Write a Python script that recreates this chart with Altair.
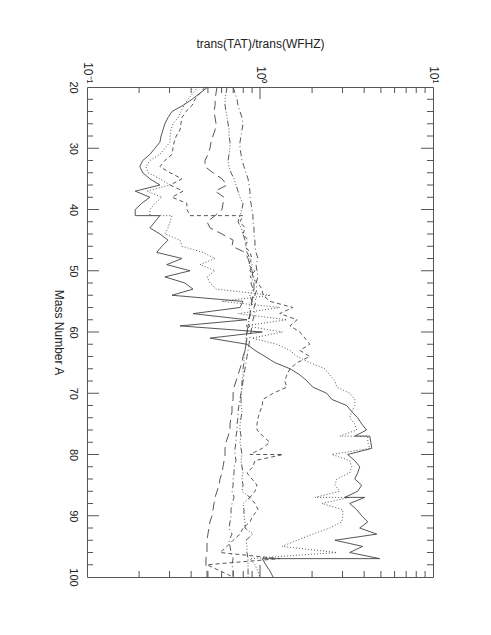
import altair as alt
import pandas as pd

# ---------------- data ----------------
MASS = list(range(20, 101))

SOLID = [0.50, 0.45, 0.405, 0.359, 0.31, 0.294, 0.282, 0.275, 0.268, 0.264,
         0.247, 0.231, 0.21, 0.202, 0.21, 0.231, 0.264, 0.19, 0.231, 0.207,
         0.19, 0.19, 0.247, 0.231, 0.264, 0.294, 0.271, 0.253, 0.354, 0.289,
         0.394, 0.282, 0.368, 0.41, 0.31, 0.797, 0.766, 0.41, 0.84, 0.345,
         1.03, 0.514, 0.84, 0.935, 1.07, 1.22, 1.49, 1.70, 1.87, 2.02,
         2.43, 2.60, 3.17, 3.39, 3.67, 3.87, 4.13, 3.53, 4.37, 4.43,
         3.21, 3.53, 3.77, 3.67, 3.53, 3.87, 3.67, 3.09, 3.30, 3.62,
         3.87, 4.20, 3.77, 4.73, 2.71, 3.92, 3.30, 4.92, 1.08, 1.14, 1.19]
SOLID_JUMPS = {41: 0.264, 77: 4.31, 87: 4.03, 97: 1.03}

DOTTED = [0.438, 0.41, 0.383, 0.363, 0.35, 0.336, 0.314, 0.306, 0.302, 0.302,
          0.282, 0.264, 0.231, 0.219, 0.225, 0.264, 0.302, 0.222, 0.271, 0.247,
          0.231, 0.231, 0.302, 0.294, 0.282, 0.345, 0.354, 0.468, 0.55, 0.45,
          0.55, 0.494, 0.514, 0.56, 1.15, 0.60, 1.30, 0.75, 1.43, 0.82,
          1.35, 0.90, 1.25, 1.49, 1.64, 1.94, 2.37, 2.53, 2.71, 2.78,
          3.30, 3.53, 3.53, 3.39, 3.30, 3.53, 3.62, 2.89, 4.20, 4.31,
          2.60, 3.30, 3.39, 3.30, 2.78, 2.71, 2.89, 2.08, 2.28, 3.01,
          3.01, 2.97, 2.53, 2.02, 1.64, 1.34, 2.78, 0.875, 0.935, 0.97, 1.0]
DOTTED_JUMPS = {41: 0.31, 77: 4.20, 87: 3.30}

SHORTDASH = [0.481, 0.45, 0.421, 0.405, 0.373, 0.354, 0.349, 0.345, 0.328, 0.319,
             0.314, 0.31, 0.282, 0.264, 0.302, 0.354, 0.302, 0.359, 0.31, 0.378,
             0.378, 0.394, 0.766, 0.819, 0.798, 0.853, 0.819, 0.875, 0.899, 0.853,
             0.935, 0.875, 0.974, 1.027, 1.041, 1.142, 1.55, 1.30, 1.64, 1.49,
             1.70, 1.82, 1.94, 1.70, 1.94, 1.64, 1.49, 1.43, 1.39, 1.43,
             1.19, 1.04, 1.03, 1.0, 0.974, 0.961, 0.961, 1.04, 1.14, 1.03,
             0.875, 0.935, 0.911, 0.841, 0.899, 0.961, 0.935, 0.875, 0.935, 0.974,
             0.911, 0.875, 0.798, 0.766, 0.699, 0.645, 0.587, 1.30, 0.494, 0.587, 0.699]
SHORTDASH_JUMPS = {41: 0.798, 80: 1.36}

DASHDOT = [0.699, 0.717, 0.737, 0.746, 0.766, 0.787, 0.798, 0.787, 0.777, 0.766,
           0.766, 0.777, 0.787, 0.808, 0.830, 0.853, 0.864, 0.875, 0.875, 0.887,
           0.899, 0.911, 0.911, 0.923, 0.923, 0.935, 0.935, 0.948, 0.974, 0.948,
           0.961, 0.974, 0.948, 0.961, 0.935, 0.948, 0.923, 0.935, 0.911, 0.899,
           0.887, 0.875, 0.864, 0.853, 0.841, 0.830, 0.819, 0.808, 0.798, 0.787,
           0.777, 0.766, 0.756, 0.746, 0.746, 0.737, 0.737, 0.727, 0.727, 0.717,
           0.717, 0.727, 0.708, 0.708, 0.699, 0.699, 0.689, 0.708, 0.689, 0.680,
           0.680, 0.671, 0.662, 0.689, 0.662, 0.671, 0.680, 0.699, 0.689, 0.699, 0.699]

LONGDASH = [0.564, 0.557, 0.550, 0.550, 0.542, 0.550, 0.557, 0.550, 0.535, 0.521,
            0.514, 0.500, 0.481, 0.481, 0.535, 0.603, 0.645, 0.550, 0.620, 0.611,
            0.603, 0.550, 0.494, 0.514, 0.603, 0.699, 0.689, 0.819, 0.853, 0.875,
            0.899, 0.911, 0.923, 0.923, 0.911, 0.899, 0.887, 0.875, 0.864, 0.853,
            0.841, 0.841, 0.830, 0.819, 0.798, 0.787, 0.766, 0.746, 0.727, 0.708,
            0.699, 0.699, 0.689, 0.689, 0.680, 0.671, 0.671, 0.654, 0.636, 0.628,
            0.628, 0.620, 0.611, 0.603, 0.587, 0.580, 0.564, 0.550, 0.542, 0.535,
            0.528, 0.514, 0.507, 0.500, 0.494, 0.494, 0.494, 0.487, 0.487, 0.494, 0.494]

DASHDOTDOT = [0.645, 0.636, 0.628, 0.628, 0.636, 0.645, 0.654, 0.662, 0.662, 0.671,
              0.671, 0.662, 0.654, 0.662, 0.680, 0.708, 0.727, 0.746, 0.766, 0.798,
              0.787, 0.766, 0.746, 0.777, 0.798, 0.819, 0.830, 0.841, 0.875, 0.899,
              0.875, 0.923, 0.887, 0.911, 0.875, 0.899, 0.864, 0.887, 0.853, 0.864,
              0.841, 0.830, 0.830, 0.819, 0.808, 0.808, 0.798, 0.798, 0.787, 0.787,
              0.777, 0.777, 0.777, 0.787, 0.777, 0.766, 0.766, 0.777, 0.766, 0.777,
              0.787, 0.777, 0.787, 0.798, 0.787, 0.798, 0.787, 0.875, 0.798, 0.808,
              0.808, 0.819, 0.819, 0.911, 0.830, 0.841, 0.841, 0.853, 0.853, 0.853, 0.853]

# axis ticks
A_LABELS = [20, 30, 40, 50, 60, 70, 80, 90, 100]
A_MAJOR = [30, 40, 50, 60, 70, 80, 90]
A_MINOR = [22, 24, 26, 28, 32, 34, 36, 38, 42, 44, 46, 48, 52, 54, 56, 58,
           62, 64, 66, 68, 72, 74, 76, 78, 82, 84, 86, 88, 92, 94, 96, 98]
R_LABELS = [0.1, 1, 10]
R_MAJOR = [1]
R_MINOR = [0.2, 0.3, 0.4, 0.5, 0.6, 0.7, 0.8, 0.9, 2, 3, 4, 5, 6, 7, 8, 9]

W, H = 346, 490
FONT = "Liberation Sans"
INK = "#222222"
LINE = "#444444"
FRAME = "#555555"


def build(values, jumps=None):
    jumps = jumps or {}
    rows, i = [], 0
    for a, v in zip(MASS, values):
        rows.append({"A": a, "ratio": v, "idx": i})
        i += 1
        if a in jumps:
            rows.append({"A": a, "ratio": jumps[a], "idx": i})
            i += 1
    return pd.DataFrame(rows)


xs = alt.Scale(type="log", domain=[0.1, 10], nice=False)
ys = alt.Scale(domain=[20, 100], reverse=True, nice=False, zero=False)

x_axis = alt.Axis(orient="top", values=R_LABELS,
                  labelExpr="datum.value < 0.5 ? '10⁻¹' : (datum.value < 5 ? '10⁰' : '10¹')",
                  labelAngle=90, labelAlign="right", labelBaseline="middle",
                  labelPadding=4, labelFlush=False, labelOverlap=False,
                  ticks=False, tickSize=0, domain=False, grid=False,
                  labelFontSize=12, labelColor=INK, labelFont=FONT,
                  title="trans(TAT)/trans(WFHZ)", titleFontSize=12,
                  titleFontWeight="normal", titleColor=INK, titleFont=FONT,
                  titleY=-40, titleBaseline="alphabetic")
y_axis = alt.Axis(orient="left", values=A_LABELS,
                  labelAngle=90, labelAlign="center", labelBaseline="middle",
                  labelPadding=15, labelFlush=False, labelOverlap=False,
                  ticks=False, tickSize=0, domain=False, grid=False,
                  labelFontSize=11, labelColor=INK, labelFont=FONT,
                  title="Mass Number A", titleFontSize=12, titleFontWeight="normal",
                  titleColor=INK, titleFont=FONT, titleAngle=90,
                  titleX=-29, titleY=H / 2, titleAlign="center", titleBaseline="middle")

XENC = alt.X("ratio:Q", scale=xs, axis=x_axis)
YENC = alt.Y("A:Q", scale=ys, axis=y_axis)


def line(df, dash=None):
    kw = dict(color=LINE, strokeWidth=0.9)
    if dash:
        kw["strokeDash"] = dash
    return alt.Chart(df).mark_line(**kw).encode(
        x=XENC, y=YENC, order=alt.Order("idx:Q"))


layers = [
    line(build(SOLID, SOLID_JUMPS)),
    line(build(DOTTED, DOTTED_JUMPS), dash=[1, 2]),
    line(build(SHORTDASH, SHORTDASH_JUMPS), dash=[4, 3]),
    line(build(DASHDOT), dash=[6, 3, 1, 3]),
    line(build(LONGDASH), dash=[9, 5]),
    line(build(DASHDOTDOT), dash=[6, 2, 1, 2, 1, 2, 1, 2]),
]


def a_ticks(values, length):
    df = pd.DataFrame({"A": values})
    left = alt.Chart(df).mark_rule(color=FRAME, strokeWidth=1).encode(
        y=YENC, x=alt.value(0), x2=alt.value(length))
    right = alt.Chart(df).mark_rule(color=FRAME, strokeWidth=1).encode(
        y=YENC, x=alt.value(W - length), x2=alt.value(W))
    return [left, right]


def r_ticks(values, length):
    df = pd.DataFrame({"ratio": values})
    top = alt.Chart(df).mark_rule(color=FRAME, strokeWidth=1).encode(
        x=XENC, y=alt.value(0), y2=alt.value(length))
    bottom = alt.Chart(df).mark_rule(color=FRAME, strokeWidth=1).encode(
        x=XENC, y=alt.value(H - length), y2=alt.value(H))
    return [top, bottom]


layers += a_ticks(A_MINOR, 6) + a_ticks(A_MAJOR, 12) + r_ticks(R_MINOR, 6) + r_ticks(R_MAJOR, 12)

chart = alt.layer(*layers).properties(
    width=W, height=H,
    autosize=alt.AutoSizeParams(type="none"),
    padding={"left": 79, "top": 79, "right": 50, "bottom": 50},
    background="white",
).configure_view(stroke=FRAME, strokeWidth=1)

chart.save("out.html", embed_options={"renderer": "svg", "actions": False})
